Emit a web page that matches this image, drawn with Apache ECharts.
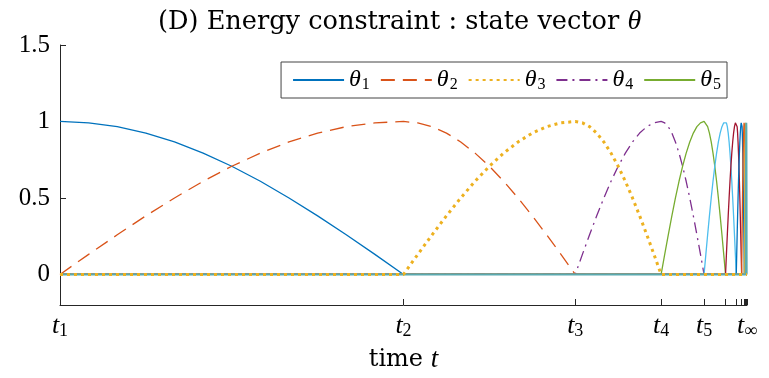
<!DOCTYPE html>
<html>
<head>
<meta charset="utf-8">
<script src="https://cdn.jsdelivr.net/npm/echarts@6/dist/echarts.min.js"></script>
<style>html,body{margin:0;padding:0;background:#fff;}#c{width:769px;height:378px;}</style>
</head>
<body>
<div id="c"></div>
<script>
// switching times t1, t2, ... -> t_inf
const tTimes = [0, 1, 1.5, 1.75, 1.875, 1.9375, 1.96875, 1.984375, 1.9921875, 1.99609375, 1.998046875, 1.9990234375, 1.99951171875, 2];
// tick labels (subscripts) at labelled times
const labelTimes = [0, 1, 1.5, 1.75, 1.875, 2];
const labelSubs = ['1', '2', '3', '4', '5', '\u221e'];
// y tick labels
const yTicks = [0, 0.5, 1, 1.5];
// shape of a rising half-hump (0 -> 1)
const riseShape = [0, 0.131, 0.259, 0.383, 0.5, 0.609, 0.707, 0.793, 0.866, 0.924, 0.966, 0.991, 1];
// series names / colours
const seriesNames = ['θ1', 'θ2', 'θ3', 'θ4', 'θ5', 'θ6', 'θ7', 'θ8', 'θ9', 'θ10', 'θ11'];
const seriesColors = ['#0072BD', '#D95319', '#EDB120', '#7E2F8E', '#77AC30', '#4DBEEE', '#A2142F', '#0072BD', '#D95319', '#EDB120', '#5AAAB0'];

function buildData(k) { // k: 0-based series index; hump peaks at tTimes[k]
  const pts = [];
  if (k > 0) {
    pts.push([0, 0]);
    const a = tTimes[k - 1], b = tTimes[k];
    riseShape.forEach((v, i) => pts.push([a + (b - a) * i / (riseShape.length - 1), v]));
  }
  const b = tTimes[k], c = tTimes[k + 1];
  const fall = riseShape.slice().reverse();
  fall.forEach((v, i) => { if (k > 0 && i === 0) return; pts.push([b + (c - b) * i / (fall.length - 1), v]); });
  pts.push([2, 0]);
  return pts;
}

const styles = [
  {width: 1.3, type: 'solid'},
  {width: 1.3, type: [14, 8]},
  {width: 3, type: [3, 4], cap: 'butt'},
  {width: 1.3, type: [11, 5, 2, 5]},
  {width: 1.3, type: 'solid'},
  {width: 1.3, type: 'solid'},
  {width: 1.3, type: 'solid'},
  {width: 1.3, type: 'solid'},
  {width: 1.3, type: 'solid'},
  {width: 1.3, type: 'solid'},
  {width: 2, type: 'solid'}
];

const series = seriesNames.map((n, k) => ({
  name: n,
  type: 'line',
  data: buildData(k),
  showSymbol: false,
  symbol: 'none',
  z: k === 2 ? 5 : 2,
  animation: false,
  color: seriesColors[k],
  lineStyle: Object.assign({color: seriesColors[k]}, styles[k])
}));

const serif = '"Liberation Serif", serif';
const wserif = '"DejaVu Serif", serif';
const chart = echarts.init(document.getElementById('c'), null, {renderer: 'canvas'});
chart.setOption({
  animation: false,
  backgroundColor: '#fff',
  title: {
    text: '(D) Energy constraint : state vector {i|θ}',
    left: 158,
    top: 3,
    padding: [5, 0, 5, 0],
    textStyle: {
      fontFamily: wserif, fontSize: 25.6, fontWeight: 'normal', color: '#000',
      rich: {i: {fontFamily: serif, fontSize: 28, fontStyle: 'italic', color: '#000'}}
    }
  },
  legend: {
    data: ['θ1', 'θ2', 'θ3', 'θ4', 'θ5'],
    right: 42,
    top: 62,
    orient: 'horizontal',
    backgroundColor: '#fff',
    borderColor: '#444',
    borderWidth: 1,
    borderRadius: 0,
    padding: [5, 6, 5, 11],
    itemWidth: 51,
    itemHeight: 12,
    itemGap: 10,
    itemStyle: {opacity: 0},
    formatter: name => '{i|θ}{s|' + name.slice(1) + '}',
    textStyle: {
      rich: {
        i: {fontFamily: serif, fontSize: 24, fontStyle: 'italic', color: '#000', lineHeight: 26},
        s: {fontFamily: serif, fontSize: 16, color: '#000', lineHeight: 26, verticalAlign: 'bottom', padding: [10, 0, 0, 1]}
      }
    }
  },
  grid: {left: 60, right: 22, top: 45, bottom: 73, containLabel: false, outerBoundsMode: 'none'},
  xAxis: {
    type: 'value', min: 0, max: 2,
    name: 'time {i|t}', nameLocation: 'middle', nameGap: 41,
    nameTextStyle: {
      fontFamily: wserif, fontSize: 24, color: '#000',
      rich: {i: {fontFamily: serif, fontSize: 27, fontStyle: 'italic', color: '#000'}}
    },
    axisLine: {onZero: false, lineStyle: {color: '#262626', width: 1}},
    axisTick: {show: true, inside: true, length: 6, customValues: tTimes, lineStyle: {color: '#262626'}},
    axisLabel: {
      customValues: labelTimes,
      margin: 7,
      formatter: v => {
        const i = labelTimes.findIndex(x => Math.abs(x - v) < 1e-9);
        return i < 0 ? '' : '{t|t}{s|' + labelSubs[i] + '}';
      },
      rich: {
        t: {fontFamily: serif, fontSize: 26, fontStyle: 'italic', color: '#000', lineHeight: 28},
        s: {fontFamily: serif, fontSize: 18, color: '#000', lineHeight: 28, verticalAlign: 'bottom', padding: [11, 0, 0, 0]}
      }
    },
    splitLine: {show: false}
  },
  yAxis: {
    type: 'value', min: -0.2, max: 1.5,
    axisLine: {show: true, onZero: false, lineStyle: {color: '#262626', width: 1}},
    axisTick: {show: true, inside: true, length: 6, customValues: yTicks, lineStyle: {color: '#262626'}},
    axisLabel: {
      customValues: yTicks,
      margin: 10,
      fontFamily: serif, fontSize: 25, color: '#000',
      formatter: v => String(Math.round(v * 10) / 10)
    },
    splitLine: {show: false}
  },
  series: series
});
</script>
</body>
</html>
